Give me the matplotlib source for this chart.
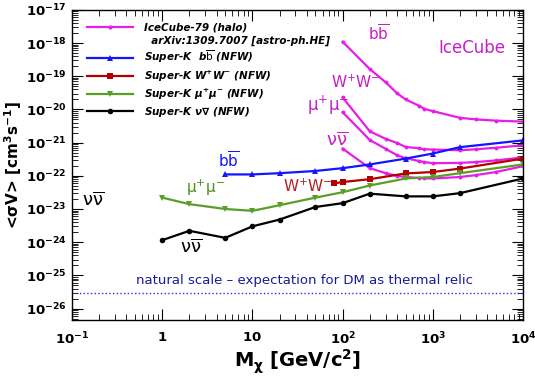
import numpy as np
import matplotlib
matplotlib.use("Agg")
import matplotlib.pyplot as plt
from matplotlib.lines import Line2D
from matplotlib.ticker import FixedLocator, LogLocator, NullFormatter

plt.rcParams['mathtext.default'] = 'regular'

# IceCube-79 (halo) limits
ic_mass = [100, 200, 300, 400, 500, 700, 800, 1000, 2000, 3000, 5000, 10000]
ic_bb = [1.1e-18, 1.65e-19, 6.6e-20, 3.1e-20, 2.0e-20, 1.3e-20, 1.05e-20, 8.9e-21, 5.6e-21, 5.0e-21, 4.6e-21, 4.3e-21]
ic_ww = [2.3e-20, 2.2e-21, 1.3e-21, 9.8e-22, 7.4e-22, 6.8e-22, 6.3e-22, 6.2e-22, 5.9e-22, 6.3e-22, 7.0e-22, 8.3e-22]
ic_mumu = [8.3e-21, 1.2e-21, 6.5e-22, 4.2e-22, 3.4e-22, 2.8e-22, 2.6e-22, 2.4e-22, 2.45e-22, 2.6e-22, 2.9e-22, 3.6e-22]
ic_nunu = [6.6e-22, 1.7e-22, 1.2e-22, 1.0e-22, 9.2e-23, 8.6e-23, 8.4e-23, 8.3e-23, 9.2e-23, 1.05e-22, 1.3e-22, 1.95e-22]

# Super-K (NFW) limits
sk_bb_mass = [5, 10, 20, 50, 100, 200, 500, 1000, 2000, 10000]
sk_bb = [1.1e-22, 1.1e-22, 1.2e-22, 1.4e-22, 1.7e-22, 2.2e-22, 3.3e-22, 4.7e-22, 7.3e-22, 1.17e-21]
sk_ww_mass = [80.4, 100, 200, 500, 1000, 2000, 10000]
sk_ww = [5.9e-23, 6.5e-23, 7.9e-23, 1.18e-22, 1.3e-22, 1.65e-22, 3.3e-22]
sk_mumu_mass = [1, 2, 5, 10, 20, 50, 100, 200, 500, 1000, 2000, 10000]
sk_mumu = [2.2e-23, 1.4e-23, 1.0e-23, 8.8e-24, 1.3e-23, 2.2e-23, 3.2e-23, 5.1e-23, 8.3e-23, 9.2e-23, 1.2e-22, 2.2e-22]
sk_nunu_mass = [1, 2, 5, 10, 20, 50, 100, 200, 500, 1000, 2000, 10000]
sk_nunu = [1.15e-24, 2.2e-24, 1.35e-24, 3.0e-24, 4.8e-24, 1.15e-23, 1.5e-23, 2.9e-23, 2.4e-23, 2.4e-23, 3.0e-23, 8.3e-23]

thermal_relic = 3e-26

x_ticks = [0.1, 1, 10, 100, 1000, 10000]
x_labels = [r'$\mathbf{10^{-1}}$', r'$\mathbf{1}$', r'$\mathbf{10}$',
            r'$\mathbf{10^{2}}$', r'$\mathbf{10^{3}}$', r'$\mathbf{10^{4}}$']
y_ticks = [10.0 ** e for e in range(-26, -16)]
y_labels = [r'$\mathbf{10^{%d}}$' % e for e in range(-26, -16)]

MAG = '#e61ee6'
MAG_TXT = '#c81ec8'
BLUE = '#1414ff'
RED = '#b40000'
GREEN = '#5a9e28'

BB = r'b$\overline{\mathrm{b}}$'

fig = plt.figure(figsize=(5.35, 3.81), dpi=100)
ax = fig.add_axes([0.1346, 0.160, 0.843, 0.814])

for vals in (ic_bb, ic_ww, ic_mumu, ic_nunu):
    ax.plot(ic_mass, vals, '-o', color=MAG, lw=1.6, ms=2.8, mew=0)

ax.plot(sk_bb_mass, sk_bb, '-^', color=BLUE, lw=1.6, ms=4, mew=0)
ax.plot(sk_ww_mass, sk_ww, '-s', color=RED, lw=1.6, ms=5, mew=0)
ax.plot(sk_mumu_mass, sk_mumu, '-v', color=GREEN, lw=1.6, ms=4, mew=0)
ax.plot(sk_nunu_mass, sk_nunu, '-o', color='black', lw=1.6, ms=4, mew=0)

ax.axhline(thermal_relic, color='#2a2aff', lw=1.0, ls=':')

ax.set_xscale('log')
ax.set_yscale('log')
ax.set_xlim(0.1, 10000)
ax.set_ylim(4.5e-27, 1e-17)

ax.xaxis.set_major_locator(FixedLocator(x_ticks))
ax.set_xticklabels(x_labels)
ax.xaxis.set_minor_locator(LogLocator(base=10, subs=np.arange(2, 10)))
ax.xaxis.set_minor_formatter(NullFormatter())
ax.yaxis.set_major_locator(FixedLocator(y_ticks))
ax.set_yticklabels(y_labels)
ax.yaxis.set_minor_locator(LogLocator(base=10, subs=np.arange(2, 10), numticks=30))
ax.yaxis.set_minor_formatter(NullFormatter())
ax.tick_params(which='both', direction='in', top=True, right=True, labelsize=9.5)
ax.tick_params(which='major', length=8, width=0.8)
ax.tick_params(which='minor', length=4, width=0.6)
ax.tick_params(axis='x', pad=8)
ax.tick_params(axis='y', pad=4)
for s in ax.spines.values():
    s.set_linewidth(1.0)

ax.set_xlabel(r'$\mathbf{M_{\chi}}$ [GeV/c$\mathbf{^{2}}$]', fontsize=14, fontweight='bold', labelpad=0)
ax.set_ylabel(r'<$\mathbf{\sigma}$V> [cm$\mathbf{^{3}}$s$\mathbf{^{-1}}$]', fontsize=11, fontweight='bold', labelpad=1)

# channel labels
ax.text(5.4, 2.9e-22, BB, color=BLUE, fontsize=11, ha='center', va='center')
ax.text(3.0, 4.2e-23, r'$\mu^{+}\mu^{-}$', color='#4f8f1f', fontsize=11, ha='center', va='center')
ax.text(78, 4.8e-23, 'W$^{+}$W$^{-}$', color='#b22222', fontsize=11, ha='right', va='center')
ax.text(2.1, 7e-25, r'$\nu\overline{\nu}$', color='black', fontsize=13, ha='center', va='center')
ax.text(0.171, 1.8e-23, r'$\nu\overline{\nu}$', color='black', fontsize=13, ha='center', va='center')

ax.text(250, 1.9e-18, BB, color=MAG_TXT, fontsize=11, ha='center', va='center')
ax.text(2700, 7.2e-19, 'IceCube', color=MAG_TXT, fontsize=12, ha='center', va='center')
ax.text(139, 6.4e-20, 'W$^{+}$W$^{-}$', color=MAG_TXT, fontsize=11, ha='center', va='center')
ax.text(69, 1.3e-20, r'$\mu^{+}\mu^{-}$', color=MAG_TXT, fontsize=12, ha='center', va='center')
ax.text(87, 1.1e-21, r'$\nu\overline{\nu}$', color=MAG_TXT, fontsize=13, ha='center', va='center')

ax.text(38, 7.2e-26, u'natural scale \u2013 expectation for DM as thermal relic',
        color='#1a1a9a', fontsize=9.5, ha='center', va='center')

# legend
handles = [
    Line2D([], [], color=MAG, lw=1.6, marker='o', ms=3, mew=0),
    Line2D([], [], color='none'),
    Line2D([], [], color=BLUE, lw=1.6, marker='^', ms=4, mew=0),
    Line2D([], [], color=RED, lw=1.6, marker='s', ms=5, mew=0),
    Line2D([], [], color=GREEN, lw=1.6, marker='v', ms=4, mew=0),
    Line2D([], [], color='black', lw=1.6, marker='o', ms=4, mew=0),
]
labels = [
    'IceCube-79 (halo)',
    '  arXiv:1309.7007 [astro-ph.HE]',
    'Super-K  ' + BB + ' (NFW)',
    'Super-K W$^{+}$W$^{-}$ (NFW)',
    r'Super-K $\mu^{+}\mu^{-}$ (NFW)',
    r'Super-K $\nu\nabla$ (NFW)',
]
leg = ax.legend(handles, labels, loc='upper left', bbox_to_anchor=(0.02, 0.98),
                frameon=False, fontsize=7.5, handlelength=4.4, handletextpad=1.0,
                labelspacing=0.3, borderaxespad=0.2)
for t in leg.get_texts():
    t.set_fontweight('bold')
    t.set_fontstyle('italic')

fig.savefig('out.png', dpi=100)
